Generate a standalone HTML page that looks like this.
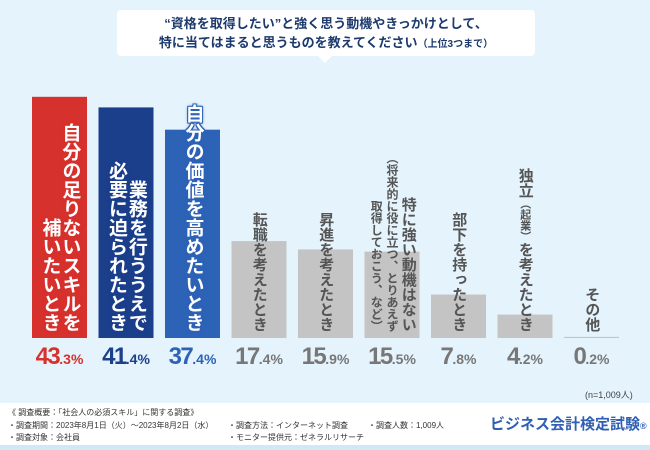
<!DOCTYPE html>
<html><head><meta charset="utf-8"><style>
body{margin:0;width:650px;height:450px;overflow:hidden;background:#e4f3fc;font-family:"Liberation Sans","Noto Sans CJK JP",sans-serif;position:relative}
.abs{position:absolute}
.vt{writing-mode:vertical-rl;position:absolute;white-space:nowrap;font-weight:bold;line-height:1.05;text-align:end}
.pct{position:absolute;top:343px;width:70px;text-align:center;font-weight:bold;font-size:24px;letter-spacing:-1.5px}
.pct small{font-size:14px;letter-spacing:0}
.ft{font-size:8px;color:#333;position:absolute;white-space:nowrap}
</style></head><body>
<div class="abs" style="left:117px;top:10px;width:418px;height:46px;background:#fff;border-radius:4px;color:#1d3a6e;font-size:13px;font-weight:bold;text-align:center;line-height:19px;padding-top:4px;box-sizing:border-box">“資格を取得したい”と強く思う動機やきっかけとして、<br>特に当てはまると思うものを教えてください<span style="font-size:10px">（上位3つまで）</span></div>
<div class="abs" style="left:318px;top:56px;width:0;height:0;border-left:7px solid transparent;border-right:7px solid transparent;border-top:7px solid #fff"></div>
<svg class="abs" style="left:0;top:0" width="650" height="450" id="chart"></svg>
<div id="labels"></div>
<div class="abs" style="left:585px;top:388px;font-size:9px;color:#444">(n=1,009人)</div>
<div class="abs" style="left:0;top:403px;width:650px;height:42px;background:#fff"></div>
<div class="abs" style="left:0;top:445px;width:650px;height:5px;background:#cfe9f8"></div>
<div class="ft" style="left:8px;top:407px">《 調査概要：「社会人の必須スキル」に関する調査》</div>
<div class="ft" style="left:8px;top:420px">・調査期間：2023年8月1日（火）～2023年8月2日（水）</div>
<div class="ft" style="left:8px;top:432px">・調査対象：会社員</div>
<div class="ft" style="left:228px;top:420px">・調査方法：インターネット調査</div>
<div class="ft" style="left:228px;top:432px">・モニター提供元：ゼネラルリサーチ</div>
<div class="ft" style="left:368px;top:420px">・調査人数：1,009人</div>
<div class="abs" style="left:490px;top:413px;font-size:15px;font-weight:bold;color:#2f5fb3">ビジネス会計検定試験<span style="font-size:9px">®</span></div>
<script>
const categories=["自分の足りないスキルを補いたいとき","業務を行ううえで必要に迫られたとき","自分の価値を高めたいとき","転職を考えたとき","昇進を考えたとき","特に強い動機はない（将来的に役に立つ、とりあえず取得しておこう、など）","部下を持ったとき","独立（起業）を考えたとき","その他"];
const values=[43.3,41.4,37.4,17.4,15.9,15.5,7.8,4.2,0.2];
const labelHtml=["自分の足りないスキルを<br>補いたいとき","業務を行ううえで<br>必要に迫られたとき","自分の価値を高めたいとき","転職を考えたとき","昇進を考えたとき","特に強い動機はない<br><span style='font-size:12px'>（将来的に役に立つ、とりあえず<br>取得しておこう、など）</span>","部下を持ったとき","独立<span style='font-size:11px'>（起業）</span>を考えたとき","その他"];
const colors=["#d7312d","#1b3f8b","#2d63b6","#c4c4c4","#c4c4c4","#c4c4c4","#c4c4c4","#c4c4c4","#c4c4c4"];
const pctColors=["#d7312d","#1b3f8b","#2d63b6","#777","#777","#777","#777","#777","#777"];
const base=338, scale=5.57, x0=32, step=66.5, bw=55;
const xPos=i=>x0+i*step;
const yPos=v=>base-v*scale;
const svg=document.getElementById('chart');const L=document.getElementById('labels');
values.forEach((v,i)=>{
 const r=document.createElementNS('http://www.w3.org/2000/svg','rect');
 
 
 const y=yPos(v);
 r.setAttribute('x',xPos(i));r.setAttribute('y',y);r.setAttribute('width',bw);r.setAttribute('height',Math.max(base-y,1));r.setAttribute('fill',colors[i]);
 svg.appendChild(r);
 const t=document.createElement('div');t.className='vt';
 
 
 t.innerHTML=labelHtml[i];
 if(i<3){const c=colors[i];t.style.color='#fff';t.style.fontSize='19px';t.style.bottom=(450-base+6)+'px';
  t.style.textShadow=`1px 0 ${c},-1px 0 ${c},0 1px ${c},0 -1px ${c},1px 1px ${c},-1px -1px ${c},1px -1px ${c},-1px 1px ${c},0 0 3px ${c}`;}
 else{t.style.color='#555';t.style.fontSize='15px';t.style.bottom=(450-base+6)+'px';}
 L.appendChild(t);
 const w=t.offsetWidth;t.style.left=(xPos(i)+bw/2-w/2)+'px';
 const p=document.createElement('div');p.className='pct';
 
 
 p.style.left=(xPos(i)+bw/2-35)+'px';p.style.color=pctColors[i];
 p.innerHTML=v.toFixed(1).replace(/\.(\d)/,'<small>.$1%</small>');
 L.appendChild(p);
});
</script>
</body></html>
